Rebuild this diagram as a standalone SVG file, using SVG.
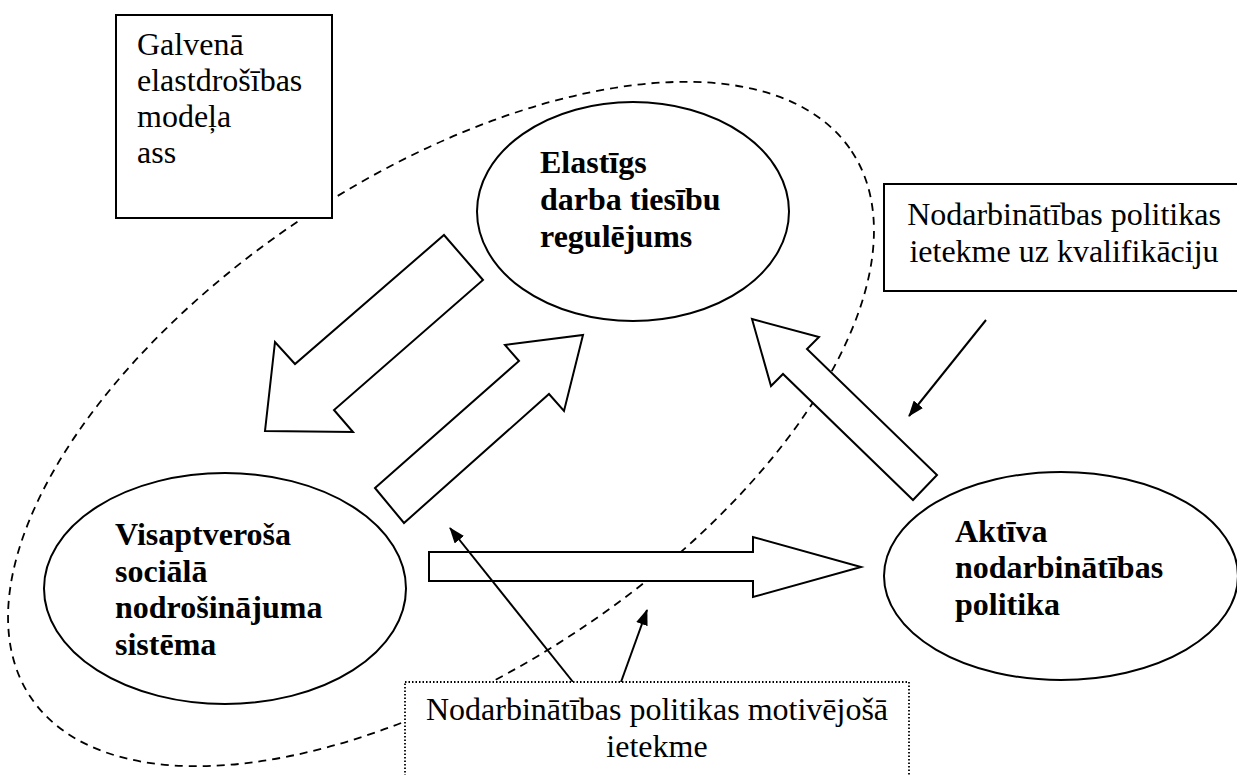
<svg xmlns="http://www.w3.org/2000/svg" width="1237" height="775" viewBox="0 0 1237 775">
<style>
.t{font-family:"Liberation Serif","Times New Roman",serif;font-size:32px;fill:#000}
.b{font-weight:bold}
.sh{fill:#fff;stroke:#000;stroke-width:2}
.ln{fill:none;stroke:#000;stroke-width:2}
</style>
<defs>
<marker id="ah2" viewBox="0 0 16 12" refX="15" refY="6" markerWidth="16" markerHeight="12" orient="auto" markerUnits="userSpaceOnUse">
<path d="M0,0 L16,6 L0,12 Z" fill="#000"/>
</marker>
</defs>
<rect width="1237" height="775" fill="#fff"/>
<g id="axis-region">
<ellipse cx="441" cy="424" rx="493" ry="248" transform="rotate(-33.6 441 424)" fill="none" stroke="#000" stroke-width="1.8" stroke-dasharray="8,6"/>
</g>
<g id="axis-box">
<rect class="sh" x="116" y="15" width="216" height="203"/>
<text class="t" x="137" y="55">Galvenā</text>
<text class="t" x="137" y="91">elastdrošības</text>
<text class="t" x="137" y="127">modeļa</text>
<text class="t" x="137" y="163">ass</text>
</g>
<g id="flex-law">
<ellipse class="sh" cx="633" cy="211.5" rx="156" ry="109.5"/>
<text class="t b" x="540" y="173">Elastīgs</text>
<text class="t b" x="540" y="210">darba tiesību</text>
<text class="t b" x="540" y="247">regulējums</text>
</g>
<g id="qualification-box">
<rect class="sh" x="884" y="184" width="360" height="107"/>
<text class="t" x="1064" y="225" text-anchor="middle">Nodarbinātības politikas</text>
<text class="t" x="1064" y="262" text-anchor="middle">ietekme uz kvalifikāciju</text>
</g>
<g id="social-security">
<ellipse class="sh" cx="225" cy="588.5" rx="181" ry="115.5"/>
<text class="t b" x="115" y="545">Visaptveroša</text>
<text class="t b" x="115" y="582">sociālā</text>
<text class="t b" x="115" y="618">nodrošinājuma</text>
<text class="t b" x="115" y="655">sistēma</text>
</g>
<g id="active-policy">
<ellipse class="sh" cx="1061" cy="576" rx="177" ry="104"/>
<text class="t b" x="955" y="542">Aktīva</text>
<text class="t b" x="955" y="578">nodarbinātības</text>
<text class="t b" x="955" y="615">politika</text>
</g>
<g id="connectors">
<polygon class="sh" points="444,235 483,280 334,410 353,432 265,431 275,342 295,364"/>
<polygon class="sh" points="375,488 519,361 505,345 583,335 564,411 549,394 404,523"/>
<polygon class="sh" points="429,552 753,552 753,537 861,567 753,597 753,581 429,581"/>
<polygon class="sh" points="752,319 819,337 807,349 937,475 913,500 783,374 771,386"/>
<line class="ln" x1="986" y1="320" x2="909" y2="416" marker-end="url(#ah2)"/>
<line class="ln" x1="573" y1="682" x2="450" y2="528" marker-end="url(#ah2)"/>
<line class="ln" x1="621" y1="682" x2="647" y2="610" marker-end="url(#ah2)"/>
</g>
<g id="motivation-box">
<rect x="405" y="682" width="504" height="110" fill="#fff" stroke="#000" stroke-width="1.8" stroke-dasharray="1.5,2"/>
<text class="t" x="657" y="720" text-anchor="middle">Nodarbinātības politikas motivējošā</text>
<text class="t" x="657" y="757" text-anchor="middle">ietekme</text>
</g>
</svg>
